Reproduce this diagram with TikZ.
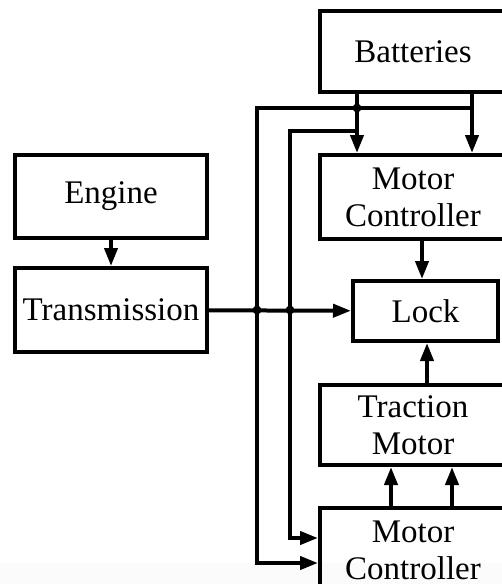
\documentclass[tikz,border=0pt]{standalone}
\usepackage{fontspec}
\setmainfont{Liberation Serif}
\usetikzlibrary{arrows.meta}

\begin{document}
\begin{tikzpicture}[
    x=0.5pt, y=-0.5pt,
    block/.style={draw=black, line width=2pt, align=center,
                  inner sep=2pt, font=\fontsize{16.5}{18.5}\selectfont},
    wire/.style={draw=black, line width=2pt},
    arr/.style={draw=black, line width=2pt, -{Triangle[length=9pt, width=6.5pt]}},
    joint/.style={fill=black},
  ]
  \clip (0,0) rectangle (502,584);
  \fill[black!1.5] (0,563) rectangle (502,584);
  % blocks
  \node[block, minimum width=96pt, minimum height=41.5pt] (engine) at (111,196.5) {Engine};
  \node[block, minimum width=96pt, minimum height=42pt] (trans) at (111,310) {Transmission};
  \node[block, minimum width=93pt, minimum height=40.5pt] (batt) at (413,51.5) {Batteries};
  \node[block, minimum width=93pt, minimum height=42pt] (mcup) at (413,197) {Motor\\Controller};
  \node[block, minimum width=72.5pt, minimum height=30pt] (lock) at (425.5,311) {Lock};
  \node[block, minimum width=93pt, minimum height=40pt] (motor) at (413,425) {Traction\\Motor};
  \node[block, minimum width=93pt, minimum height=42.5pt] (mclow) at (413,550.5) {Motor\\Controller};
  % taps and buses
  \coordinate (tapL) at (357,0);
  \coordinate (tapR) at (472,0);
  \coordinate (busA) at (257,108);
  \coordinate (busB) at (290,131);
  \coordinate (inA) at (0,563);
  \coordinate (inB) at (0,538);
  \coordinate (lockin) at (422,0);
  \coordinate (lockup) at (427,0);
  \coordinate (mcoutL) at (391,0);
  \coordinate (mcoutR) at (452,0);
  % connectors
  \draw[arr] (engine) -- (trans);
  \draw[arr] (trans) -- (lock);
  \draw[arr] (batt.south -| tapL) -- (mcup.north -| tapL);
  \draw[arr] (batt.south -| tapR) -- (mcup.north -| tapR);
  \draw[arr] (tapR |- busA) -- (busA) |- (mclow.west |- inA);
  \draw[arr] (tapL |- busB) -- (busB) |- (mclow.west |- inB);
  \draw[arr] (mcup.south -| lockin) -- (lock.north -| lockin);
  \draw[arr] (motor.north -| lockup) -- (lock.south -| lockup);
  \draw[arr] (mclow.north -| mcoutL) -- (motor.south -| mcoutL);
  \draw[arr] (mclow.north -| mcoutR) -- (motor.south -| mcoutR);
  % junction dots
  \fill[joint] (tapL |- busA) circle (2.2pt);
  \fill[joint] (busA |- trans) circle (2.2pt);
  \fill[joint] (busB |- trans) circle (2.2pt);
\end{tikzpicture}
\end{document}
